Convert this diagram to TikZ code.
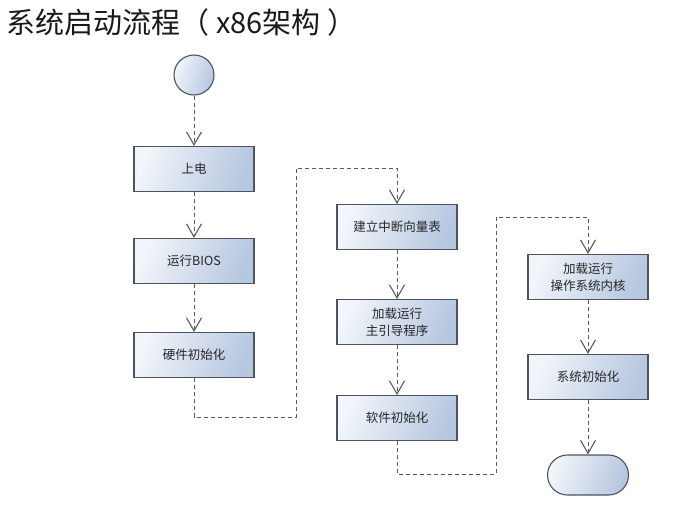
\documentclass[tikz,border=0pt]{standalone}
\usepackage{fontspec}
\setmainfont{Noto Sans CJK SC}
\usepackage{xcolor}
\usepackage{tikz}
\usetikzlibrary{arrows.meta,shapes.misc}
\definecolor{boxlight}{HTML}{F2F5FA}
\definecolor{boxdark}{HTML}{B6C7E0}
\definecolor{boxline}{HTML}{4E545E}
\definecolor{flowline}{HTML}{5A5A5A}
\tikzset{
  flownode/.style = {align=center, inner sep=0pt, text centered,
    font=\fontsize{12.5}{17}\selectfont, text=black!85, draw=boxline,
    line width=1.1pt, left color=boxlight, right color=boxdark,
    shading angle=70},
  flow_box/.style = {flownode, rectangle, minimum width=120pt,
    minimum height=45pt},% step box
  flow_start/.style = {flownode, circle, minimum size=40pt},% start node
  flow_end/.style = {flownode, rounded rectangle, minimum width=81pt,
    minimum height=40pt},% end node
  flow_arrow/.style = {draw=flowline, line width=0.9pt,
    dash pattern=on 4pt off 3pt,
    -{Straight Barb[length=13pt,width=15pt,line width=1.1pt]}}% dashed flow
}

\begin{document}
\begin{tikzpicture}[x=1pt,y=-1pt]
\useasboundingbox (0,0) rectangle (674,506);
\node [anchor=base west, font=\fontsize{29}{31}\selectfont, text=black!90]
  (title) at (3,33) {系统启动流程（ x86架构 ）};

\node [flow_start] (start) at (194,75) {};
\node [flow_box] (power) at (194,169) {上电};
\node [flow_box] (bios) at (194,261) {运行BIOS};
\node [flow_box] (hwinit) at (194,355) {硬件初始化};
\node [flow_box] (ivt) at (397,227) {建立中断向量表};
\node [flow_box] (bootldr) at (397,322) {加载运行\\主引导程序};
\node [flow_box] (swinit) at (397,418) {软件初始化};
\node [flow_box] (kernel) at (588,277) {加载运行\\操作系统内核};
\node [flow_box] (sysinit) at (588,377) {系统初始化};
\node [flow_end] (stop) at (588,475) {};

\coordinate (c1) at (194,417);
\coordinate (c2) at (296,417);
\coordinate (c3) at (296,168);
\coordinate (c4) at (397,168);
\coordinate (c5) at (397,474);
\coordinate (c6) at (496,474);
\coordinate (c7) at (496,217);
\coordinate (c8) at (588,217);

\draw [flow_arrow] (start) -- (power);
\draw [flow_arrow] (power) -- (bios);
\draw [flow_arrow] (bios) -- (hwinit);
\draw [flow_arrow] (hwinit) -- (c1) -- (c2) -- (c3) -- (c4) -- (ivt);
\draw [flow_arrow] (ivt) -- (bootldr);
\draw [flow_arrow] (bootldr) -- (swinit);
\draw [flow_arrow] (swinit) -- (c5) -- (c6) -- (c7) -- (c8) -- (kernel);
\draw [flow_arrow] (kernel) -- (sysinit);
\draw [flow_arrow] (sysinit) -- (stop);
\end{tikzpicture}
\end{document}
